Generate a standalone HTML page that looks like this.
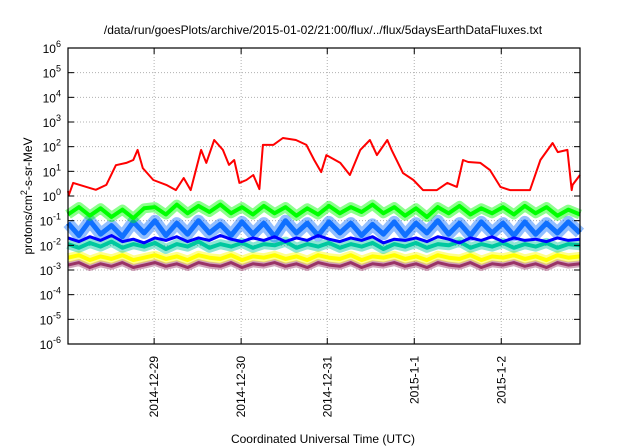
<!DOCTYPE html>
<html><head><meta charset="utf-8"><style>
html,body{margin:0;padding:0;background:#fff;}
svg{display:block;font-family:"Liberation Sans",sans-serif;}
</style></head><body>
<svg id="chart" width="640" height="448" viewBox="0 0 640 448" xmlns="http://www.w3.org/2000/svg">
<text x="323" y="34" font-size="12" text-anchor="middle" fill="#000">/data/run/goesPlots/archive/2015-01-02/21:00/flux/../flux/5daysEarthDataFluxes.txt</text>
<text transform="translate(32,196) rotate(-90)" font-size="12" text-anchor="middle">protons/cm<tspan dy="-5" font-size="9">2</tspan><tspan dy="5">-s-sr-MeV</tspan></text>
<text x="323" y="443" font-size="12" text-anchor="middle">Coordinated Universal Time (UTC)</text>
<g id="grid"></g><g id="series"></g><g id="axes"></g>
</svg>
<script>
const yTickExps = [6,5,4,3,2,1,0,-1,-2,-3,-4,-5,-6];
const xTickDays = [0.99,1.99,2.98,3.98,4.98];
const xTickLabels = ["2014-12-29","2014-12-30","2014-12-31","2015-1-1","2015-1-2"];
const redTimes = [0,0.01,0.06,0.21,0.32,0.44,0.55,0.67,0.75,0.80,0.86,0.98,1.13,1.24,1.33,1.41,1.53,1.59,1.68,1.78,1.85,1.91,1.97,2.05,2.13,2.20,2.24,2.36,2.47,2.62,2.74,2.83,2.91,2.97,3.13,3.24,3.36,3.47,3.55,3.67,3.72,3.85,3.97,4.08,4.24,4.36,4.47,4.54,4.60,4.74,4.85,4.97,5.08,5.20,5.31,5.43,5.57,5.63,5.74,5.79,5.80,5.885];
const redLog = [0.2,0.05,0.53,0.37,0.25,0.45,1.25,1.34,1.46,1.87,1.13,0.65,0.45,0.24,0.73,0.24,1.87,1.34,2.27,1.87,1.26,1.46,0.53,0.65,0.85,0.28,2.07,2.07,2.35,2.27,2.07,1.46,0.97,1.66,1.34,0.85,1.87,2.27,1.66,2.27,1.87,0.93,0.65,0.24,0.24,0.53,0.37,1.46,1.38,1.34,1.05,0.37,0.24,0.24,0.24,1.46,2.15,1.78,1.87,0.24,0.45,0.85];
const sampleTimes = [0,0.125,0.25,0.375,0.5,0.625,0.75,0.875,1,1.125,1.25,1.375,1.5,1.625,1.75,1.875,2,2.125,2.25,2.375,2.5,2.625,2.75,2.875,3,3.125,3.25,3.375,3.5,3.625,3.75,3.875,4,4.125,4.25,4.375,4.5,4.625,4.75,4.875,5,5.125,5.25,5.375,5.5,5.625,5.75,5.885];
const greenLog = [-0.75,-0.45,-0.8,-0.5,-0.85,-0.55,-0.9,-0.5,-0.45,-0.75,-0.35,-0.7,-0.4,-0.65,-0.35,-0.7,-0.45,-0.75,-0.4,-0.7,-0.45,-0.8,-0.5,-0.75,-0.4,-0.7,-0.45,-0.65,-0.35,-0.7,-0.45,-0.8,-0.5,-0.85,-0.45,-0.7,-0.4,-0.75,-0.5,-0.7,-0.45,-0.75,-0.4,-0.7,-0.45,-0.8,-0.55,-0.75];
const lightBlueLog = [-1.1,-1.6,-1.0,-1.55,-1.2,-1.65,-1.05,-1.5,-1.0,-1.6,-1.1,-1.55,-1.0,-1.5,-1.15,-1.6,-1.05,-1.55,-1.1,-1.65,-1.0,-1.5,-1.1,-1.6,-1.05,-1.5,-1.1,-1.6,-1.15,-1.55,-1.05,-1.6,-1.1,-1.5,-1.0,-1.55,-1.1,-1.6,-1.05,-1.5,-1.1,-1.6,-1.05,-1.55,-1.1,-1.5,-1.05,-1.5];
const darkBlueLog = [-1.7,-1.85,-1.65,-1.8,-1.6,-1.85,-1.75,-1.9,-1.7,-1.8,-1.65,-1.85,-1.7,-1.8,-1.6,-1.75,-1.85,-1.7,-1.8,-1.65,-1.85,-1.7,-1.8,-1.6,-1.75,-1.85,-1.7,-1.8,-1.65,-1.9,-1.75,-1.8,-1.7,-1.85,-1.65,-1.75,-1.9,-1.7,-1.8,-1.65,-1.85,-1.7,-1.8,-1.75,-1.85,-1.7,-1.8,-1.75];
const tealLog = [-1.95,-2.1,-1.9,-2.05,-1.85,-2.1,-1.95,-2.05,-1.9,-2.15,-1.95,-2.05,-1.85,-2.1,-1.95,-2.05,-1.9,-2.1,-1.95,-2.0,-1.85,-2.1,-1.95,-2.05,-1.9,-2.1,-1.95,-2.05,-1.9,-2.15,-1.95,-2.05,-1.9,-2.1,-1.95,-2.0,-1.85,-2.1,-1.95,-2.05,-1.9,-2.1,-1.95,-2.05,-1.9,-2.1,-1.95,-2.0];
const yellowLog = [-2.5,-2.4,-2.6,-2.45,-2.55,-2.4,-2.6,-2.5,-2.4,-2.55,-2.45,-2.6,-2.4,-2.5,-2.55,-2.4,-2.6,-2.45,-2.5,-2.4,-2.55,-2.45,-2.6,-2.4,-2.5,-2.55,-2.4,-2.6,-2.45,-2.5,-2.4,-2.55,-2.45,-2.6,-2.4,-2.5,-2.55,-2.4,-2.6,-2.45,-2.5,-2.4,-2.55,-2.45,-2.6,-2.4,-2.5,-2.45];
const purpleLog = [-2.8,-2.7,-2.9,-2.75,-2.85,-2.7,-2.9,-2.8,-2.7,-2.85,-2.75,-2.9,-2.7,-2.8,-2.85,-2.7,-2.9,-2.75,-2.8,-2.7,-2.85,-2.75,-2.9,-2.7,-2.8,-2.85,-2.7,-2.9,-2.75,-2.8,-2.7,-2.85,-2.75,-2.9,-2.7,-2.8,-2.85,-2.7,-2.9,-2.75,-2.8,-2.7,-2.85,-2.75,-2.9,-2.7,-2.8,-2.75];

const NS="http://www.w3.org/2000/svg";
const L=68,R=580,T=48,B=344, DMAX=5.885;
const xs=d=>L+(d/DMAX)*(R-L);
const ys=lg=>T+(6-lg)/12*(B-T);
function mk(tag,attrs,parent){const e=document.createElementNS(NS,tag);for(const k in attrs)e.setAttribute(k,attrs[k]);parent.appendChild(e);return e;}
const grid=document.getElementById('grid'),axes=document.getElementById('axes'),ser=document.getElementById('series');

yTickExps.forEach(ex=>{
  const y=ys(ex);
  if(ex<6&&ex>-6){const g=mk('line',{x1:L,x2:R,y1:y,y2:y,stroke:'#b0b0b0','stroke-dasharray':'1,2','stroke-width':1},grid);
  
  }
  const t1=mk('line',{x1:L,x2:L+6,y1:y,y2:y,stroke:'#000'},axes);
  
  
  const t2=mk('line',{x1:R-6,x2:R,y1:y,y2:y,stroke:'#000'},axes);
  
  
  const tx=mk('text',{x:L-7,y:y+5,'font-size':12,'text-anchor':'end'},axes);
  
  
  const base=document.createElementNS(NS,'tspan');base.textContent='10';tx.appendChild(base);
  const sup=document.createElementNS(NS,'tspan');sup.setAttribute('dy','-6');sup.setAttribute('font-size','9');sup.textContent=String(ex);tx.appendChild(sup);
});
xTickDays.forEach((d,i)=>{
  const x=xs(d);
  const g=mk('line',{x1:x,x2:x,y1:T,y2:B,stroke:'#b0b0b0','stroke-dasharray':'1,2'},grid);
  
  
  const t1=mk('line',{x1:x,x2:x,y1:B-6,y2:B,stroke:'#000'},axes);
  
  
  const t2=mk('line',{x1:x,x2:x,y1:T,y2:T+6,stroke:'#000'},axes);
  
  
  const tx=mk('text',{transform:`translate(${x+4},356) rotate(-90)`,'font-size':12,'text-anchor':'end'},axes);
  tx.textContent=xTickLabels[i];
  
  
});
const fr=mk('rect',{x:L,y:T,width:R-L,height:B-T,fill:'none',stroke:'#000','stroke-width':1.2},axes);



function line(times,vals,color,w,name,halo){
  const p=times.map((t,i)=>xs(t).toFixed(1)+','+ys(vals[i]).toFixed(1)).join(' ');
  if(halo){
    const h=mk('polyline',{points:p,fill:'none',stroke:color,'stroke-width':halo,'stroke-opacity':0.45,'stroke-linejoin':'round'},ser);
    
    
  }
  const pl=mk('polyline',{points:p,fill:'none',stroke:color,'stroke-width':w,'stroke-linejoin':'round'},ser);
  
  
}
line(sampleTimes,purpleLog,'#993366',3,'series-purple',7);
line(sampleTimes,yellowLog,'#ffff00',4,'series-yellow',9);
line(sampleTimes,tealLog,'#00c8a0',4,'series-teal',10);
line(sampleTimes,lightBlueLog,'#1070ff',5,'series-light-blue',12);
line(sampleTimes,darkBlueLog,'#0000ff',3,'series-dark-blue',0);
line(sampleTimes,greenLog,'#00ff00',4,'series-green',10);
line(redTimes,redLog,'#ff0000',2,'series-red',0);
</script>
</body></html>
